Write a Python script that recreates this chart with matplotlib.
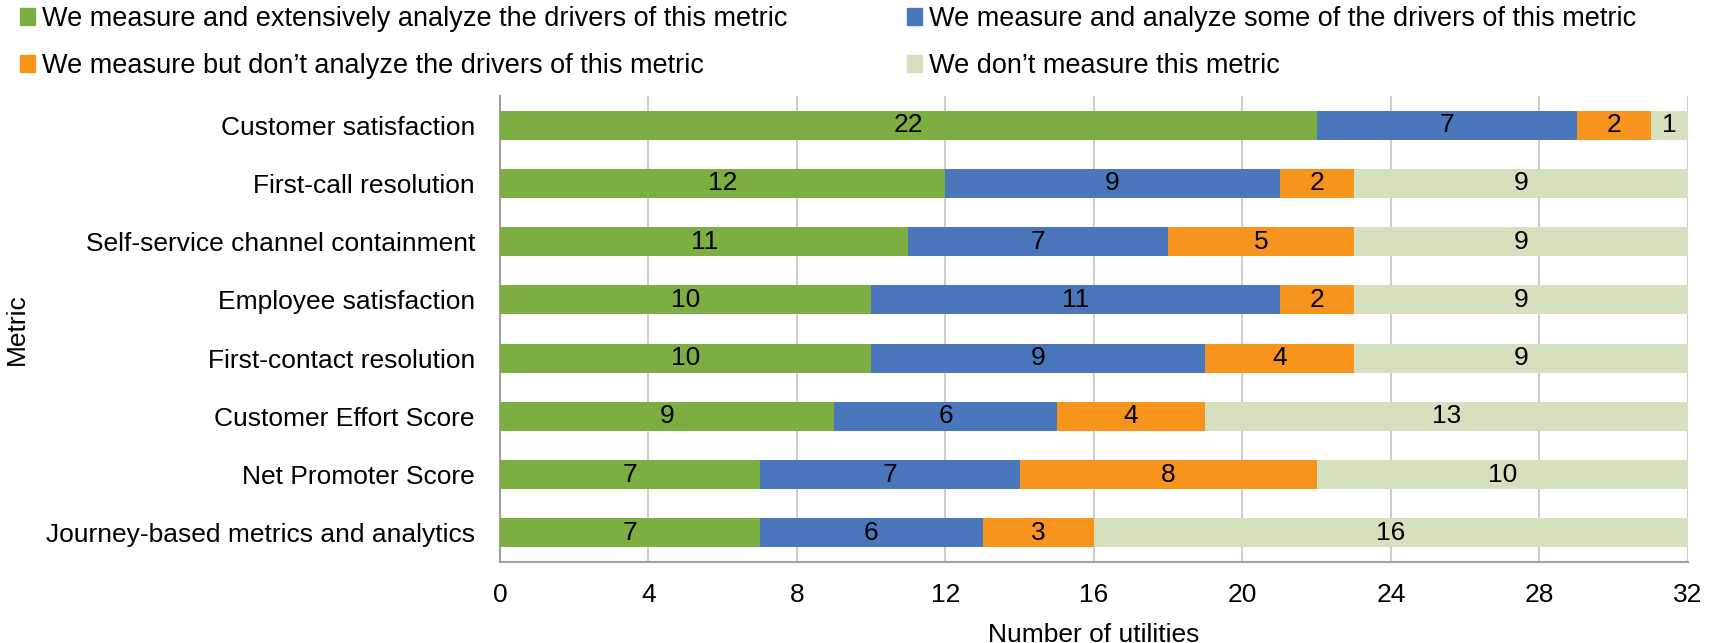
import matplotlib.pyplot as plt
import numpy as np
from matplotlib.patches import Patch

plt.rcParams['font.family'] = ['Liberation Sans', 'DejaVu Sans']

metrics = ["Customer satisfaction", "First-call resolution",
           "Self-service channel containment", "Employee satisfaction",
           "First-contact resolution", "Customer Effort Score",
           "Net Promoter Score", "Journey-based metrics and analytics"]
extensive = [22, 12, 11, 10, 10, 9, 7, 7]
some = [7, 9, 7, 11, 9, 6, 7, 6]
no_analysis = [2, 2, 5, 2, 4, 4, 8, 3]
not_measured = [1, 9, 9, 9, 9, 13, 10, 16]

series = [
    ("We measure and extensively analyze the drivers of this metric", extensive, "#7cae42"),
    ("We measure and analyze some of the drivers of this metric", some, "#4a77bb"),
    ("We measure but don\u2019t analyze the drivers of this metric", no_analysis, "#f7941d"),
    ("We don\u2019t measure this metric", not_measured, "#d5e0bf"),
]

W, H = 1715, 643
fig = plt.figure(figsize=(W / 100, H / 100), dpi=100)
ax = fig.add_axes([500 / W, 1 - 562 / H, 1188 / W, 466 / H])

y = np.arange(len(metrics))
left = np.zeros(len(metrics))
for name, vals, color in series:
    vals = np.array(vals, dtype=float)
    bars = ax.barh(y, vals, left=left, height=0.5, color=color, zorder=3)
    for b, v in zip(bars, vals):
        ax.text(b.get_x() + b.get_width() / 2, b.get_y() + b.get_height() / 2,
                f"{int(v)}", ha="center", va="center", fontsize=19, zorder=4)
    left += vals

ax.set_xlim(0, 32)
ax.set_ylim(len(metrics) - 0.5, -0.5)
ax.set_xticks(range(0, 33, 4))
ax.set_yticks(y)
ax.set_yticklabels(metrics)
ax.tick_params(axis="both", length=0, labelsize=19)
ax.tick_params(axis="x", pad=15)
ax.tick_params(axis="y", pad=18)
ax.grid(axis="x", color="#c8c8c8", linewidth=1.3, zorder=0)
for s in ["top", "right"]:
    ax.spines[s].set_visible(False)
for s in ["left", "bottom"]:
    ax.spines[s].set_color("#a0a0a0")
    ax.spines[s].set_linewidth(1.5)
ax.set_xlabel("Number of utilities", fontsize=19, labelpad=12)
ax.set_ylabel("Metric", fontsize=19)
ax.yaxis.set_label_coords(-471 / 1188, 0.5)

handles = [Patch(color=c) for _, _, c in series]
labels = [n for n, _, _ in series]
order = [0, 2, 1, 3]
fig.legend([handles[i] for i in order], [labels[i] for i in order],
           ncol=2, loc="upper left", bbox_to_anchor=(20 / W, 1 - 6 / H),
           frameon=False, fontsize=19.5, handlelength=0.55, handleheight=0.55,
           handletextpad=0.27, columnspacing=4.4, labelspacing=0.78,
           borderpad=0, borderaxespad=0)

fig.savefig("out.png", dpi=100)
